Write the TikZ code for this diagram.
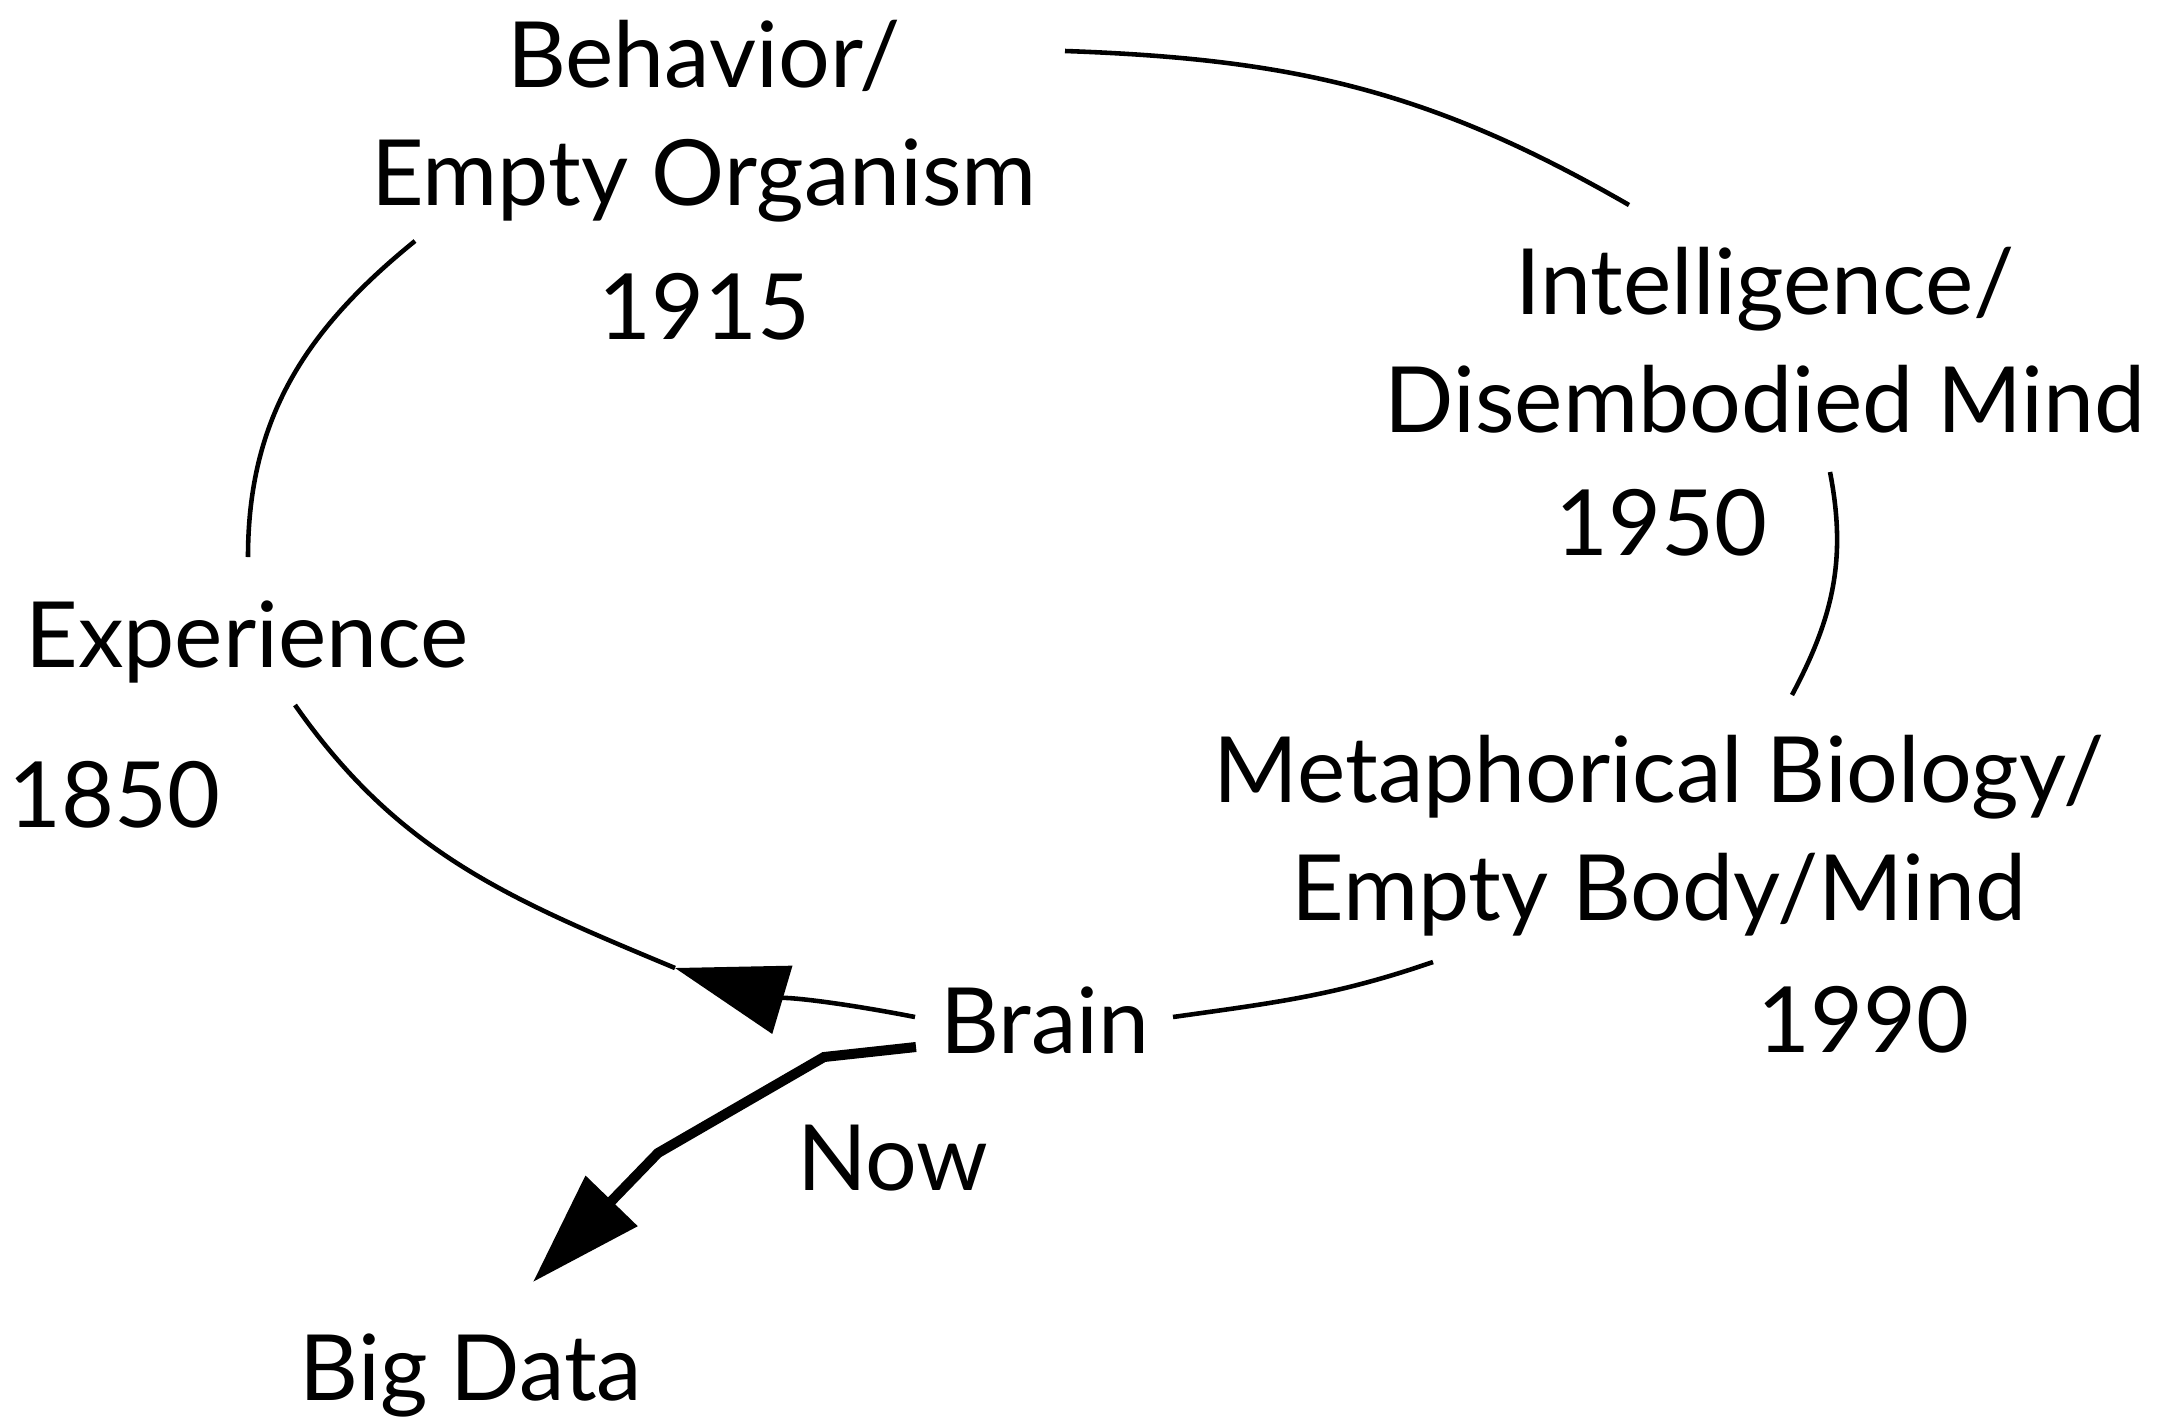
\documentclass[tikz,border=0pt]{standalone}
\usepackage{fontspec}
\setmainfont{Lato}
\usetikzlibrary{calc}
\usetikzlibrary{arrows.meta}
\tikzset{
	term/.style={
		font=\fontsize{26}{33.3}\selectfont,
		inner sep=0pt,
		align=center,
		anchor=base},
	link/.style={draw, line width=1.3pt},
	linkarrow/.style={link, -{Triangle[length=11.2mm, width=7mm]}},
	bigarrow/.style={draw, line width=2.85pt, -{Triangle[length=11.3mm, width=7mm]}},
}

\begin{document}
\begin{tikzpicture}
	\useasboundingbox (0,0) rectangle (21.70,-14.26);
	\node[term] (behav) at (7.04,-2.05) {Behavior/\\Empty Organism};
	\node[term] (yr1915) at (7.04,-3.39) {1915};
	\node[term] (intel) at (17.65,-4.32) {Intelligence/\\Disembodied Mind};
	\node[term] (yr1950) at (16.61,-5.55) {1950};
	\node[term] (exper) at (2.47,-6.67) {Experience};
	\node[term] (yr1850) at (1.14,-8.27) {1850};
	\node[term] (meta) at (16.59,-9.20) {Metaphorical Biology/\\Empty Body/Mind};
	\node[term] (yr1990) at (18.63,-10.52) {1990};
	\node[term] (brain) at (10.45,-10.53) {Brain};
	\node[term] (now) at (8.93,-11.90) {Now};
	\node[term] (bigdata) at (4.71,-14.00) {Big Data};
	\coordinate (turn) at ($(brain.base)+(-3.70,0.85)$);
	% the circle of periods
	\draw[link] ($(behav.base)+(3.61,1.54)$) to[out=-2, in=150] ($(intel.base)+(-1.36,2.27)$);
	\draw[link] ($(intel.base)+(0.65,-0.40)$) to[out=-79, in=62] ($(meta.base)+(1.33,2.25)$);
	\draw[link] ($(meta.base)+(-2.26,-0.42)$) to[out=199, in=8] ($(brain.base)+(1.28,0.36)$);
	\draw[linkarrow] ($(brain.base)+(-1.30,0.36)$) to[out=169, in=-16.5] (turn);
	\draw[link] (turn) to[out=157.4, in=-55] ($(exper.base)+(0.48,-0.38)$);
	\draw[link] ($(exper.base)+(0.01,1.10)$) to[out=90, in=-141] ($(behav.base)+(-2.89,-0.36)$);
	% way out
	\draw[bigarrow] ($(brain.base)+(-1.29,0.06)$) -- ++(-0.92,-0.10) -- ++(-1.66,-0.96) -- ($(bigdata.base)+(0.62,1.18)$);
\end{tikzpicture}
\end{document}
